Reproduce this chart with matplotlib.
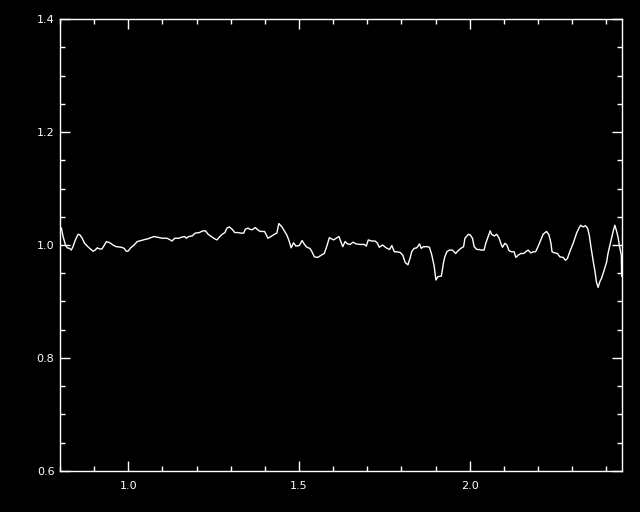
import numpy as np
import matplotlib
matplotlib.use("Agg")
import matplotlib.pyplot as plt
from matplotlib.ticker import MultipleLocator

# values
wave = [0.804, 0.809, 0.816, 0.821, 0.828, 0.833, 0.838, 0.845, 0.853, 0.858,
        0.864, 0.872, 0.880, 0.887, 0.897, 0.903, 0.909, 0.916, 0.923, 0.931,
        0.936, 0.946, 0.955, 0.965, 0.980, 0.988, 0.994, 0.999, 1.007, 1.017,
        1.026, 1.038, 1.050, 1.058, 1.066, 1.075, 1.084, 1.099, 1.113, 1.123,
        1.128, 1.136, 1.148, 1.157, 1.165, 1.170, 1.177, 1.187, 1.196, 1.208,
        1.218, 1.226, 1.234, 1.243, 1.253, 1.260, 1.265, 1.275, 1.283, 1.289,
        1.296, 1.304, 1.312, 1.321, 1.331, 1.338, 1.343, 1.351, 1.355, 1.363,
        1.372, 1.379, 1.386, 1.399, 1.409, 1.418, 1.428, 1.435, 1.441, 1.450,
        1.457, 1.464, 1.470, 1.477, 1.484, 1.491, 1.501, 1.509, 1.516, 1.523,
        1.532, 1.538, 1.545, 1.555, 1.565, 1.574, 1.581, 1.589, 1.601, 1.609,
        1.617, 1.628, 1.635, 1.642, 1.650, 1.658, 1.667, 1.679, 1.691, 1.697,
        1.703, 1.713, 1.723, 1.730, 1.735, 1.745, 1.755, 1.765, 1.772, 1.779,
        1.786, 1.796, 1.804, 1.811, 1.819, 1.825, 1.830, 1.837, 1.845, 1.853,
        1.858, 1.864, 1.876, 1.882, 1.889, 1.896, 1.901, 1.907, 1.917, 1.923,
        1.927, 1.933, 1.940, 1.949, 1.959, 1.966, 1.974, 1.982, 1.986, 1.992,
        1.996, 2.001, 2.008, 2.013, 2.021, 2.028, 2.034, 2.042, 2.047, 2.054,
        2.060, 2.064, 2.072, 2.079, 2.086, 2.091, 2.096, 2.103, 2.109, 2.115,
        2.122, 2.130, 2.135, 2.142, 2.150, 2.158, 2.164, 2.171, 2.179, 2.186,
        2.193, 2.200, 2.208, 2.215, 2.225, 2.232, 2.238, 2.241, 2.249, 2.257,
        2.264, 2.274, 2.280, 2.286, 2.293, 2.303, 2.313, 2.320, 2.325, 2.332,
        2.339, 2.345, 2.350, 2.355, 2.362, 2.367, 2.371, 2.376, 2.381, 2.386,
        2.394, 2.401, 2.405, 2.413, 2.420, 2.425, 2.429, 2.434, 2.439, 2.444,
        2.445]
flux = [1.030, 1.015, 1.000, 0.995, 0.994, 0.991, 0.997, 1.009, 1.019, 1.018,
        1.013, 1.003, 0.998, 0.994, 0.989, 0.991, 0.995, 0.993, 0.993, 1.001,
        1.006, 1.004, 1.000, 0.997, 0.996, 0.994, 0.989, 0.989, 0.995, 1.000,
        1.006, 1.008, 1.010, 1.011, 1.013, 1.015, 1.014, 1.012, 1.012, 1.009,
        1.007, 1.012, 1.012, 1.014, 1.015, 1.012, 1.015, 1.016, 1.021, 1.022,
        1.025, 1.025, 1.019, 1.015, 1.011, 1.009, 1.013, 1.019, 1.022, 1.030,
        1.032, 1.028, 1.022, 1.022, 1.021, 1.021, 1.028, 1.030, 1.028, 1.027,
        1.031, 1.027, 1.024, 1.024, 1.012, 1.015, 1.019, 1.021, 1.038, 1.032,
        1.025, 1.018, 1.009, 0.995, 1.004, 0.998, 0.999, 1.008, 1.001, 0.996,
        0.994, 0.988, 0.979, 0.978, 0.982, 0.985, 0.997, 1.013, 1.009, 1.012,
        1.015, 0.997, 1.006, 1.002, 1.001, 1.005, 1.002, 1.001, 1.001, 0.998,
        1.009, 1.007, 1.007, 1.003, 0.996, 1.000, 0.995, 0.992, 0.999, 0.988,
        0.988, 0.987, 0.982, 0.969, 0.965, 0.976, 0.988, 0.994, 0.995, 1.002,
        0.994, 0.997, 0.997, 0.996, 0.982, 0.962, 0.938, 0.944, 0.945, 0.968,
        0.979, 0.988, 0.991, 0.991, 0.985, 0.990, 0.994, 0.997, 1.012, 1.016,
        1.019, 1.018, 1.012, 0.997, 0.992, 0.992, 0.991, 0.991, 1.003, 1.015,
        1.025, 1.019, 1.016, 1.019, 1.012, 1.003, 0.996, 1.003, 1.000, 0.990,
        0.988, 0.988, 0.978, 0.982, 0.985, 0.985, 0.988, 0.991, 0.986, 0.988,
        0.988, 0.997, 1.009, 1.019, 1.024, 1.018, 1.003, 0.988, 0.986, 0.985,
        0.979, 0.978, 0.973, 0.976, 0.988, 1.003, 1.021, 1.030, 1.035, 1.032,
        1.034, 1.030, 1.018, 0.997, 0.970, 0.953, 0.935, 0.925, 0.935, 0.941,
        0.956, 0.970, 0.985, 1.006, 1.024, 1.035, 1.027, 1.015, 0.997, 0.982,
        0.945]

x_range = (0.8, 2.446)
y_range = (0.6, 1.4)
x_ticks = [1.0, 1.5, 2.0]
y_ticks = [0.6, 0.8, 1.0, 1.2, 1.4]

fig = plt.figure(figsize=(6.4, 5.12), dpi=100, facecolor='black')
ax = fig.add_axes([60/640, 41/512, 562/640, 452/512], facecolor='black')

ax.plot(wave, flux, color='white', linewidth=1.0)

ax.set_xlim(*x_range)
ax.set_ylim(*y_range)
ax.set_xticks(x_ticks)
ax.set_yticks(y_ticks)
ax.xaxis.set_minor_locator(MultipleLocator(0.1))
ax.yaxis.set_minor_locator(MultipleLocator(0.05))
ax.set_xticklabels(['%.1f' % v for v in x_ticks])
ax.set_yticklabels(['%.1f' % v for v in y_ticks])

for s in ax.spines.values():
    s.set_color('white')
    s.set_linewidth(1.0)
ax.tick_params(which='both', direction='in', colors='white', top=True, right=True,
               labelsize=8, width=1.0)
ax.tick_params(which='major', length=7)
ax.tick_params(which='minor', length=3.7)
ax.tick_params(axis='x', pad=7)
ax.tick_params(axis='y', pad=4)

fig.savefig('out.png', dpi=100, facecolor='black')
